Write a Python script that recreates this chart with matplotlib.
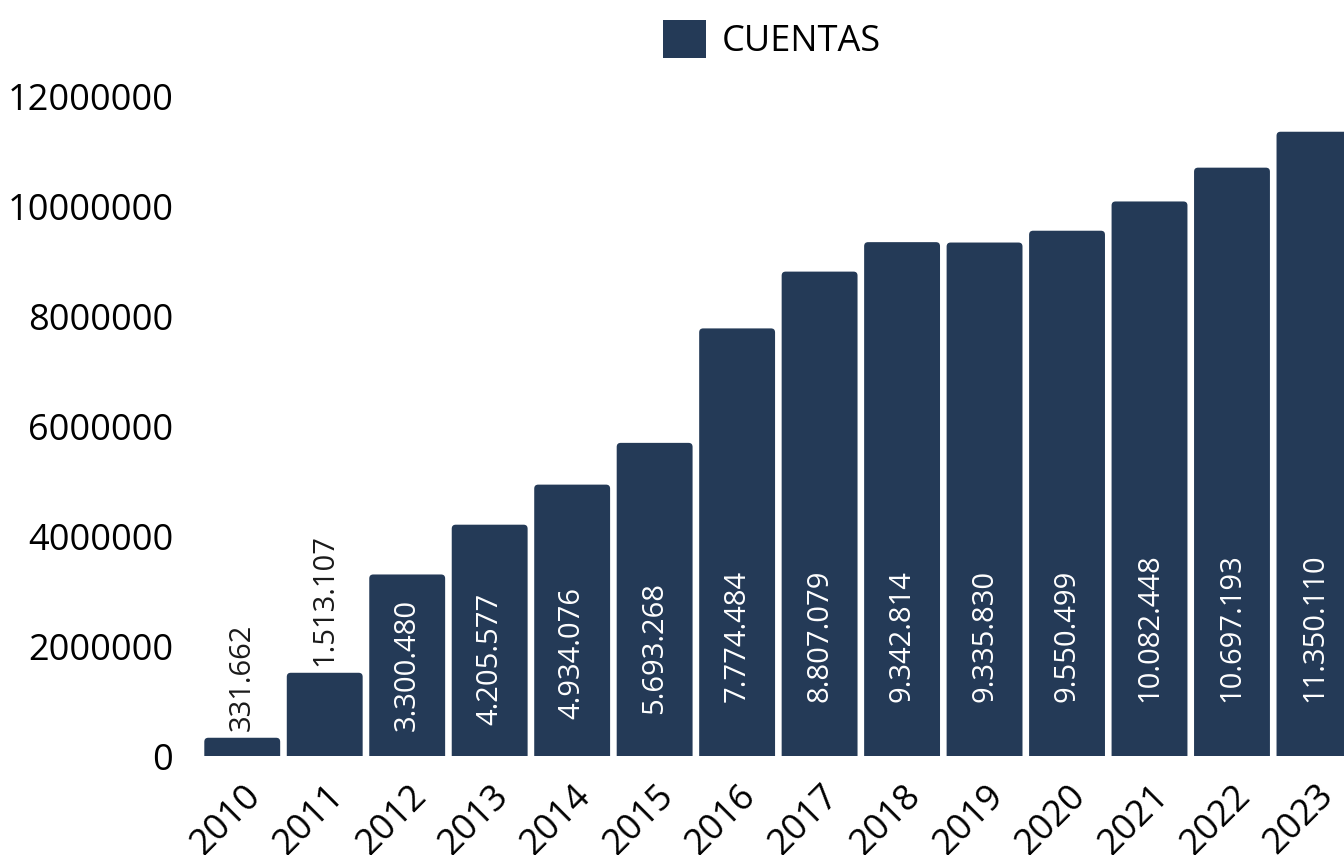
import numpy as np
import matplotlib
matplotlib.use("Agg")
from matplotlib import pyplot as plt
from matplotlib.patches import FancyBboxPatch, Patch
from matplotlib import transforms

years = ["2010", "2011", "2012", "2013", "2014", "2015", "2016",
         "2017", "2018", "2019", "2020", "2021", "2022", "2023"]
cuentas = [331662, 1513107, 3300480, 4205577, 4934076, 5693268, 7774484,
           8807079, 9342814, 9335830, 9550499, 10082448, 10697193, 11350110]
yticks = [0, 2000000, 4000000, 6000000, 8000000, 10000000, 12000000]
series_name = "CUENTAS"

BAR_COLOR = "#243a57"
plt.rcParams["font.family"] = ["Open Sans", "DejaVu Sans"]

W, H, DPI = 1344, 855, 100
fig = plt.figure(figsize=(W / DPI, H / DPI), dpi=DPI)

# axes placement in pixels (last bar runs off the right edge like in the source)
left_px, right_px, bottom_px, top_px = 201, 1344, 756, 79.5
ax = fig.add_axes([left_px / W, (H - bottom_px) / H,
                   (right_px - left_px) / W, (bottom_px - top_px) / H])

x = np.arange(len(years))
ymax = 12.3e6
xmax = 13.358
ax.set_ylim(0, ymax)
ax.set_xlim(-0.5, xmax)

# pixel -> data conversion factors for rounded corners
xpp = (xmax + 0.5) / (right_px - left_px)
ypp = ymax / (bottom_px - top_px)
radius_px = 4
r_x = radius_px * xpp
aspect = ypp / xpp

bars = ax.bar(x, cuentas, width=0.92, color=BAR_COLOR)
for b in bars:
    bx, bw, bh = b.get_x(), b.get_width(), b.get_height()
    b.remove()
    p = FancyBboxPatch((bx, -radius_px * ypp), bw, bh + radius_px * ypp,
                       boxstyle=f"round,pad=0,rounding_size={r_x}",
                       mutation_aspect=aspect, facecolor=BAR_COLOR,
                       edgecolor="none")
    ax.add_patch(p)

for xi, v in zip(x, cuentas):
    label = f"{v:,}".replace(",", ".")
    if v < 3.0e6:
        ax.text(xi, v + 7 * ypp, label, rotation=90, ha="center", va="bottom",
                color="#1a1a1a", fontsize=21)
    else:
        ax.text(xi, min(0.135 * v, 0.98e6), label, rotation=90, ha="center",
                va="bottom", color="white", fontsize=21)

ax.set_yticks(yticks)
ax.set_yticklabels([str(t) for t in yticks], fontsize=26)

# year labels drawn as text so they can be nudged like the original
ax.set_xticks(x)
ax.set_xticklabels([])
offset = transforms.ScaledTranslation(1 / DPI, -22 / DPI, fig.dpi_scale_trans)
for xi, yr in zip(x, years):
    ax.text(xi, 0, yr, transform=ax.get_xaxis_transform() + offset,
            fontsize=26, rotation=45, ha="right", va="top",
            rotation_mode="anchor", clip_on=False)

ax.tick_params(axis="both", length=0)
ax.tick_params(axis="y", pad=20)
for s in ax.spines.values():
    s.set_visible(False)

fig.legend(handles=[Patch(facecolor=BAR_COLOR, edgecolor="none")],
           labels=[series_name], loc="center",
           bbox_to_anchor=(772 / W, 1 - 40 / H), frameon=False, fontsize=26,
           handlelength=1.2, handleheight=1.22, handletextpad=0.45,
           borderpad=0)

fig.savefig("out.png", dpi=DPI)
